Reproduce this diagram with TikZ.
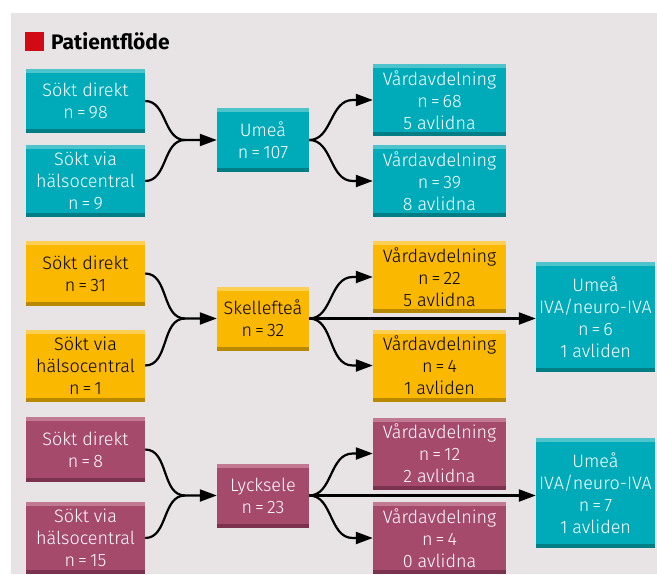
\documentclass[tikz,border=0pt]{standalone}
\usepackage{fontspec}
\setmainfont{Fira Sans}[UprightFont=* Light, BoldFont=* Bold]
\usepackage{tikz}
\usetikzlibrary{arrows.meta}

\definecolor{bgGray}{RGB}{232,227,228}
\definecolor{titleRed}{RGB}{210,10,20}
\definecolor{umeaC}{RGB}{0,171,185}
\definecolor{umeaTop}{RGB}{77,195,203}
\definecolor{umeaBot}{RGB}{0,125,133}
\definecolor{skelC}{RGB}{250,184,0}
\definecolor{skelTop}{RGB}{252,206,82}
\definecolor{skelBot}{RGB}{184,137,0}
\definecolor{lyckC}{RGB}{166,74,108}
\definecolor{lyckTop}{RGB}{194,122,146}
\definecolor{lyckBot}{RGB}{122,50,78}

\tikzset{
  box/.style n args={3}{rectangle, fill=#1, inner sep=0pt, align=center,
    font=\fontsize{18}{22}\selectfont,
    path picture={
      \fill[#2] (path picture bounding box.north west) rectangle ([yshift=-4pt]path picture bounding box.north east);
      \fill[#3] (path picture bounding box.south west) rectangle ([yshift=4pt]path picture bounding box.south east);
    }},
  umeabox/.style={box={umeaC}{umeaTop}{umeaBot}, text=white},
  skelbox/.style={box={skelC}{skelTop}{skelBot}, text=black},
  lyckbox/.style={box={lyckC}{lyckTop}{lyckBot}, text=white},
  src/.style={minimum width=119pt},
  hub/.style={minimum width=92pt, minimum height=64pt},
  ward/.style={minimum width=133pt, minimum height=72pt},
  iva/.style={minimum width=119pt, minimum height=110pt},
  flow/.style={line width=2.2pt, black}
}

\begin{document}
\begin{tikzpicture}[x=1pt, y=-1pt, >={Triangle[length=17pt,width=12pt]}]
\useasboundingbox (0,0) rectangle (657,574);
% Background
\fill[bgGray] (11,13) rectangle (657,574);

% Title
\fill[titleRed] (25,32) rectangle (44,51);
\node[anchor=base west, inner sep=0pt, font=\bfseries\fontsize{21}{24}\selectfont] (title) at (51,49) {Patientflöde};

% Umeå
\node[umeabox, src, minimum height=64pt] (tDirekt) at (85.5,101) {Sökt direkt\\n\,=\,98};
\node[umeabox, src, minimum height=72pt] (tVia) at (85.5,181) {Sökt via\\hälsocentral\\n\,=\,9};
\node[umeabox, hub] (tUmea) at (263,140) {Umeå\\n\,=\,107};
\node[umeabox, ward] (tVard1) at (439.5,100) {Vårdavdelning\\n\,=\,68\\5 avlidna};
\node[umeabox, ward] (tVard2) at (439.5,181) {Vårdavdelning\\n\,=\,39\\8 avlidna};
\coordinate (tMerge) at (185,140);
\draw[flow, ->] (tDirekt.east) to[out=0,in=180] (tMerge) -- (tUmea.west);
\draw[flow] (tVia.east) to[out=0,in=180] (tMerge);
\draw[flow, ->] (tUmea.east) to[out=0,in=180] ([xshift=-20pt]tVard1.west) -- (tVard1.west);
\draw[flow, ->] (tUmea.east) to[out=0,in=180] ([xshift=-20pt]tVard2.west) -- (tVard2.west);

% Skellefteå
\node[skelbox, src, minimum height=65pt] (sDirekt) at (85.5,273.5) {Sökt direkt\\n\,=\,31};
\node[skelbox, src, minimum height=72pt] (sVia) at (85.5,365.5) {Sökt via\\hälsocentral\\n\,=\,1};
\node[skelbox, hub] (sSkel) at (263,318.5) {Skellefteå\\n\,=\,32};
\node[skelbox, ward] (sVard1) at (439.5,277) {Vårdavdelning\\n\,=\,22\\5 avlidna};
\node[skelbox, ward] (sVard2) at (439.5,365.5) {Vårdavdelning\\n\,=\,4\\1 avliden};
\node[umeabox, iva] (sIva) at (595.5,317) {Umeå\\IVA/neuro-IVA\\n\,=\,6\\1 avliden};
\coordinate (sMerge) at (185,318.5);
\draw[flow, ->] (sDirekt.east) to[out=0,in=180] (sMerge) -- (sSkel.west);
\draw[flow] (sVia.east) to[out=0,in=180] (sMerge);
\draw[flow, ->] (sSkel.east) to[out=0,in=180] ([xshift=-20pt]sVard1.west) -- (sVard1.west);
\draw[flow, ->] (sSkel.east) to[out=0,in=180] ([xshift=-20pt]sVard2.west) -- (sVard2.west);
\draw[flow, ->] (sSkel.east) -- (sSkel.east -| sIva.west);

% Lycksele
\node[lyckbox, src, minimum height=65pt] (lDirekt) at (85.5,449.5) {Sökt direkt\\n\,=\,8};
\node[lyckbox, src, minimum height=72pt] (lVia) at (85.5,538) {Sökt via\\hälsocentral\\n\,=\,15};
\node[lyckbox, hub] (lLyck) at (263,495.5) {Lycksele\\n\,=\,23};
\node[lyckbox, ward] (lVard1) at (439.5,453.5) {Vårdavdelning\\n\,=\,12\\2 avlidna};
\node[lyckbox, ward] (lVard2) at (439.5,538) {Vårdavdelning\\n\,=\,4\\0 avlidna};
\node[umeabox, iva] (lIva) at (595.5,493) {Umeå\\IVA/neuro-IVA\\n\,=\,7\\1 avliden};
\coordinate (lMerge) at (185,495.5);
\draw[flow, ->] (lDirekt.east) to[out=0,in=180] (lMerge) -- (lLyck.west);
\draw[flow] (lVia.east) to[out=0,in=180] (lMerge);
\draw[flow, ->] (lLyck.east) to[out=0,in=180] ([xshift=-20pt]lVard1.west) -- (lVard1.west);
\draw[flow, ->] (lLyck.east) to[out=0,in=180] ([xshift=-20pt]lVard2.west) -- (lVard2.west);
\draw[flow, ->] (lLyck.east) -- (lLyck.east -| lIva.west);
\end{tikzpicture}
\end{document}
